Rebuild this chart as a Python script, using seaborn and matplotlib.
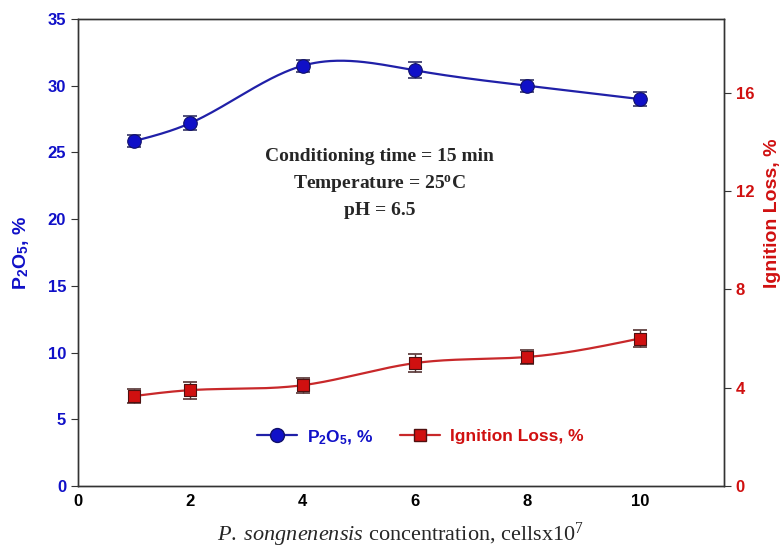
"""P2O5 grade and ignition loss vs P. songnenensis concentration (twin axes)."""

import numpy as np
import pandas as pd
import matplotlib
matplotlib.use('Agg')
import matplotlib.pyplot as plt
from matplotlib.lines import Line2D
import seaborn as sns

sns.set_style("white")
plt.rcParams.update({
    'font.family': 'Liberation Sans',
    'mathtext.fontset': 'custom',
    'mathtext.rm': 'Liberation Serif:normal',
    'mathtext.it': 'Liberation Serif:italic:normal',
    'mathtext.bf': 'Liberation Serif:bold',
    'mathtext.sf': 'Liberation Sans:bold',
})

# Values
conc = [1, 2, 4, 6, 8, 10]
p2o5 = [25.85, 27.2, 31.5, 31.15, 30.0, 29.0]
p2o5_err = [0.45, 0.55, 0.45, 0.6, 0.45, 0.55]
ign_loss = [3.66, 3.9, 4.1, 5.0, 5.25, 6.0]
ign_err = [0.3, 0.35, 0.3, 0.35, 0.3, 0.35]
notes = ['Conditioning time = 15 min',
         'Temperature = 25$^{\\mathbf{o}}$C',
         'pH = 6.5']

blue = '#1010c8'
blue_line = '#2020a8'
red = '#d01010'
red_line = '#c8282a'


def natural_spline(x, y, n=300):
    """Smooth display curve through the points (natural cubic spline)."""
    x = np.asarray(x, float)
    y = np.asarray(y, float)
    k = len(x)
    h = np.diff(x)
    A = np.zeros((k, k))
    b = np.zeros(k)
    A[0, 0] = A[-1, -1] = 1
    for i in range(1, k - 1):
        A[i, i - 1] = h[i - 1]
        A[i, i] = 2 * (h[i - 1] + h[i])
        A[i, i + 1] = h[i]
        b[i] = 6 * ((y[i + 1] - y[i]) / h[i] - (y[i] - y[i - 1]) / h[i - 1])
    M = np.linalg.solve(A, b)
    xs = np.linspace(x[0], x[-1], n)
    idx = np.clip(np.searchsorted(x, xs) - 1, 0, k - 2)
    x0, x1 = x[idx], x[idx + 1]
    hh = x1 - x0
    ys = (M[idx] * (x1 - xs) ** 3 / (6 * hh) + M[idx + 1] * (xs - x0) ** 3 / (6 * hh)
          + (y[idx] / hh - M[idx] * hh / 6) * (x1 - xs)
          + (y[idx + 1] / hh - M[idx + 1] * hh / 6) * (xs - x0))
    return pd.DataFrame({'x': xs, 'y': ys})


df_p = pd.DataFrame({'x': conc, 'y': p2o5})
df_i = pd.DataFrame({'x': conc, 'y': ign_loss})

fig = plt.figure(figsize=(7.83, 5.51), dpi=100)
ax = fig.add_axes([0.0996, 0.118, 0.825, 0.8475])
ax2 = ax.twinx()

# P2O5 on left axis
sns.lineplot(data=natural_spline(conc, p2o5), x='x', y='y', ax=ax,
             color=blue_line, lw=1.6)
ax.errorbar(conc, p2o5, yerr=p2o5_err, fmt='none', ecolor='#333366',
            elinewidth=1, capsize=5, capthick=1.2, zorder=3)
sns.scatterplot(data=df_p, x='x', y='y', ax=ax, color=blue, marker='o',
                s=95, edgecolor='#10106a', linewidth=0.8, zorder=4)

# Ignition loss on right axis
sns.lineplot(data=natural_spline(conc, ign_loss), x='x', y='y', ax=ax2,
             color=red_line, lw=1.6)
ax2.errorbar(conc, ign_loss, yerr=ign_err, fmt='none', ecolor='#553333',
             elinewidth=1, capsize=5, capthick=1.2, zorder=3)
sns.scatterplot(data=df_i, x='x', y='y', ax=ax2, color=red, marker='s',
                s=75, edgecolor='#501010', linewidth=0.8, zorder=4)

ax.set_xlim(0, 11.5)
ax.set_ylim(0, 35)
ax2.set_ylim(0, 19)
ax.set_xticks([0, 2, 4, 6, 8, 10])
ax.set_yticks(range(0, 36, 5))
ax2.set_yticks([0, 4, 8, 12, 16])

for a in (ax, ax2):
    for s in a.spines.values():
        s.set_color('#333333')
        s.set_linewidth(1.0)

ax.tick_params(axis='x', direction='in', length=5, colors='#333333',
               labelcolor='black', labelsize=12, pad=6)
ax.tick_params(axis='y', direction='out', length=5, colors='#333333',
               labelcolor=blue, labelsize=12, left=True)
ax2.tick_params(axis='y', direction='out', length=5, colors='#333333',
                labelcolor=red, labelsize=12, right=True)
for lab in ax.get_xticklabels() + ax.get_yticklabels() + ax2.get_yticklabels():
    lab.set_fontweight('bold')

ax.set_xlabel(r'$\mathit{P.\;songnenensis}$ concentration, cellsx10$^{\mathrm{7}}$',
              family='Liberation Serif', fontweight='normal', fontsize=16, labelpad=8)
ax.set_ylabel(r'P$_{\mathsf{2}}$O$_{\mathsf{5}}$, %', color=blue, fontsize=14,
              fontweight='bold')
ax.yaxis.set_label_coords(-0.072, 0.5)
ax2.set_ylabel('Ignition Loss, %', color=red, fontsize=14, fontweight='bold')
ax2.yaxis.set_label_coords(1.062, 0.585)

# Conditions block, three centred lines
for txt, yv in zip(notes, [24.66, 22.64, 20.62]):
    ax.text(5.37, yv, txt, family='Liberation Serif', fontweight='bold',
            fontsize=14, ha='center', va='center')

handles = [
    Line2D([], [], color=blue_line, lw=1.6, marker='o', markersize=10,
           markerfacecolor=blue, markeredgecolor='#10106a'),
    Line2D([], [], color=red_line, lw=1.6, marker='s', markersize=8.5,
           markerfacecolor=red, markeredgecolor='#501010'),
]
leg = ax.legend(handles, [r'P$_{\mathsf{2}}$O$_{\mathsf{5}}$, %', 'Ignition Loss, %'],
                loc='center', bbox_to_anchor=(0.53, 0.105), ncol=2, frameon=False,
                fontsize=12.5, handlelength=2.3, handletextpad=0.6,
                columnspacing=1.5)
for txt, c in zip(leg.get_texts(), [blue, red]):
    txt.set_color(c)
    txt.set_fontweight('bold')

ax2.set_zorder(ax.get_zorder() + 1)
ax.patch.set_visible(True)
ax2.patch.set_visible(False)

fig.savefig('out.png', dpi=100)
